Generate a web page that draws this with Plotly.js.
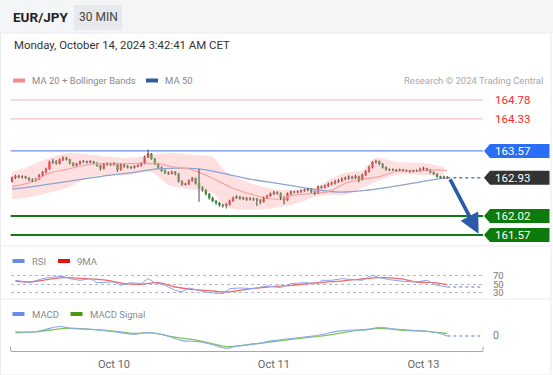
<!DOCTYPE html>
<html><head><meta charset="utf-8">
<script src="https://cdn.plot.ly/plotly-3.0.1.min.js"></script>
<style>html,body{margin:0;padding:0;background:#fff;}#chart{width:553px;height:375px;}</style>
</head><body><div id="chart"></div>
<script>
// ---------------- DATA ----------------
const pairName = "EUR/JPY";
const timeframe = "30 MIN";
const stampText = "Monday, October 14, 2024 3:42:41 AM CET";
const copyrightText = "Research © 2024 Trading Central";

// 30-min candles (index = candle number)
const candleOpen = [162.84,162.93,162.97,162.95,162.96,162.93,162.88,162.86,162.90,162.99,
163.06,163.14,163.30,163.32,163.27,163.36,163.40,163.37,163.28,163.22,
163.26,163.31,163.32,163.30,163.32,163.28,163.22,163.15,163.25,163.27,
163.24,163.26,163.12,163.24,163.20,163.18,163.17,163.20,163.22,163.27,
163.42,163.50,163.38,163.26,163.18,163.10,163.05,163.03,163.07,163.02,
162.85,162.77,162.78,162.86,162.92,162.80,162.70,162.64,162.55,162.45,
162.38,162.33,162.28,162.27,162.30,162.38,162.45,162.48,162.44,162.45,
162.42,162.44,162.43,162.40,162.36,162.45,162.50,162.55,162.58,162.56,
162.47,162.40,162.55,162.60,162.59,162.60,162.62,162.64,162.66,162.60,
162.57,162.72,162.70,162.74,162.78,162.80,162.84,162.86,162.90,162.92,
162.95,162.93,162.96,162.90,163.00,163.08,163.18,163.30,163.32,163.26,
163.18,163.13,163.12,163.12,163.11,163.12,163.11,163.10,163.08,163.09,
163.10,163.14,163.15,163.12,163.06,163.02,162.96,162.94,162.95];
const candleClose = [162.93,162.97,162.95,162.96,162.93,162.88,162.86,162.90,162.99,163.06,
163.14,163.30,163.32,163.27,163.36,163.40,163.37,163.28,163.22,163.26,
163.31,163.32,163.30,163.32,163.28,163.22,163.15,163.25,163.27,163.24,
163.26,163.12,163.24,163.20,163.18,163.17,163.20,163.22,163.27,163.42,
163.50,163.38,163.26,163.18,163.10,163.05,163.03,163.07,163.02,162.85,
162.77,162.78,162.86,162.92,162.80,162.70,162.64,162.55,162.45,162.38,
162.33,162.28,162.27,162.30,162.38,162.45,162.48,162.44,162.45,162.42,
162.44,162.43,162.40,162.36,162.45,162.50,162.55,162.58,162.56,162.47,
162.40,162.55,162.60,162.59,162.60,162.62,162.64,162.66,162.60,162.57,
162.72,162.70,162.74,162.78,162.80,162.84,162.86,162.90,162.92,162.95,
162.93,162.96,162.90,163.00,163.08,163.18,163.30,163.32,163.26,163.18,
163.13,163.12,163.12,163.11,163.12,163.11,163.10,163.08,163.09,163.10,
163.14,163.15,163.12,163.06,163.02,162.96,162.94,162.95,162.93];
const candleHigh = [162.96,163.00,163.00,162.99,162.98,162.95,162.92,162.93,163.02,163.09,
163.17,163.34,163.38,163.35,163.39,163.44,163.43,163.38,163.30,163.29,
163.34,163.35,163.34,163.35,163.33,163.30,163.24,163.28,163.30,163.29,
163.30,163.27,163.27,163.26,163.23,163.21,163.23,163.25,163.30,163.46,
163.60,163.52,163.40,163.28,163.20,163.13,163.08,163.10,163.09,163.04,
162.87,162.81,162.89,162.95,162.93,163.14,162.73,162.66,162.57,162.48,
162.40,162.36,162.31,162.33,162.41,162.48,162.52,162.50,162.48,162.47,
162.47,162.46,162.45,162.42,162.48,162.53,162.58,162.62,162.61,162.58,
162.49,162.58,162.63,162.62,162.63,162.65,162.67,162.69,162.68,162.62,
162.75,162.75,162.77,162.82,162.84,162.88,162.90,162.94,162.96,162.99,
162.98,163.00,162.98,163.03,163.11,163.22,163.33,163.36,163.34,163.28,
163.20,163.15,163.15,163.14,163.15,163.14,163.13,163.12,163.12,163.13,
163.17,163.19,163.17,163.14,163.08,163.04,162.98,162.98,162.97];
const candleLow = [162.82,162.90,162.92,162.91,162.90,162.85,162.83,162.84,162.88,162.97,
163.04,163.12,163.26,163.24,163.25,163.33,163.34,163.25,163.20,163.20,
163.24,163.29,163.27,163.28,163.26,163.19,163.10,163.13,163.22,163.21,
163.22,163.07,163.10,163.17,163.15,163.14,163.15,163.18,163.20,163.25,
163.40,163.36,163.24,163.15,163.07,163.02,163.00,163.01,162.99,162.82,
162.74,162.75,162.76,162.84,162.77,162.36,162.60,162.51,162.41,162.35,
162.29,162.24,162.22,162.20,162.27,162.36,162.43,162.41,162.40,162.38,
162.39,162.38,162.26,162.30,162.34,162.43,162.48,162.52,162.53,162.40,
162.30,162.38,162.52,162.56,162.56,162.57,162.60,162.61,162.57,162.52,
162.55,162.67,162.68,162.71,162.75,162.77,162.81,162.83,162.87,162.88,
162.89,162.90,162.82,162.87,162.97,163.05,163.15,163.27,163.23,163.15,
163.10,163.09,163.09,163.08,163.09,163.08,163.07,163.05,163.06,163.07,
163.07,163.11,163.09,163.03,162.99,162.93,162.91,162.91,162.90];

// Moving averages & Bollinger bands (read at sampled candle indices)
const ma50Idx = [0,6,16,26,36,43,55,60,70,78,86,96,105,115,125,128];
const ma50Val = [162.66,162.72,162.84,162.96,163.06,163.14,163.14,163.07,162.90,162.80,162.69,162.59,162.64,162.76,162.90,162.93];
const ma20Idx = [0,6,11,16,24,31,38,43,47,53,59,65,72,78,83,93,98,103,108,113,121,125,128];
const ma20Val = [162.72,162.84,163.04,163.13,163.26,163.26,163.275,163.26,163.195,163.12,162.92,162.68,162.50,162.42,162.52,162.60,162.80,162.895,162.96,163.08,163.10,163.12,163.10];
const bandIdx = [0,4,8,16,24,34,41,46,54,59,63,70,79,85,89,93,98,103,107,113,121,127];
const bandUpper = [163.075,163.163,163.313,163.513,163.472,163.40,163.472,163.52,163.472,163.425,163.068,162.807,162.64,162.664,162.664,162.878,163.044,163.116,163.40,163.306,163.282,163.187];
const bandLower = [162.42,162.45,162.52,162.688,162.97,162.997,163.068,162.76,162.64,162.569,162.236,162.165,162.236,162.355,162.474,162.52,162.52,162.688,162.83,162.997,162.997,162.997];

// Key levels
const levelValues = [164.78,164.33,163.57,162.93,162.02,161.57];
const lastPrice = 162.93;
const targetPrice = 161.57;

// RSI & 9MA
const rsiIdx = [1,5,9,12,15,17,20,23,25,30,32,35,38,40,42,45,48,50,52,56,59,62,64,67,71,75,79,82,86,90,91,94,97,100,103,106,108,111,115,119,122,125,128];
const rsiVal = [59.8,54.3,63.7,67.6,69.2,63.7,59.8,63.7,54.3,55.9,48,54.3,52,63.7,54.3,48,36.3,32.4,41.8,33.9,30,28.4,40.2,41.8,40.2,46.5,42.6,52,54.3,52,59.8,59.8,63.7,62.2,59.8,71.6,66.1,61.4,57.5,55.9,59.8,48,44.1];
const rsiMaIdx = [1,5,9,15,22,28,33,38,43,48,54,59,63,69,75,82,90,96,102,108,114,119,124,128];
const rsiMaVal = [58.2,55.9,59.8,66.1,63.7,59.8,52,50.4,54.3,44.1,37.8,34.7,32.4,38.6,44.1,48,54.3,57.5,62.2,66.1,63.7,55.9,54.3,49.6];
const rsiLevels = [30,50,70];

// MACD
const macdIdx = [1,7,10,14,17,23,30,36,40,45,50,55,59,63,65,71,77,84,90,96,100,104,108,111,116,121,125,128];
const macdVal = [0.035,0.035,0.06,0.088,0.07,0.06,0.035,0.011,0.028,0,-0.053,-0.063,-0.095,-0.13,-0.116,-0.088,-0.053,-0.025,0,0.042,0.053,0.053,0.081,0.07,0.053,0.042,0.025,-0.007];
const signalIdx = [1,7,16,23,30,36,41,48,55,63,69,77,86,94,100,108,114,121,128];
const signalVal = [0.025,0.035,0.07,0.06,0.042,0.018,0.025,-0.018,-0.053,-0.113,-0.095,-0.063,-0.025,0.007,0.042,0.07,0.053,0.042,0.018];

// Date ticks (candle index of each day start)
const dayTickIdx = [30,77,121];
const dayTickText = ["Oct 10","Oct 11","Oct 13"];

// ---------------- LAYOUT HELPERS ----------------
const W = 553, H = 375;
const px = x => x / W, py = y => 1 - y / H;
const FONT = "Roboto, 'Liberation Sans', Arial, sans-serif";
const xStart = -0.41, xEnd = 138.5;
const priceRange = [161.356, 165.065];
const priceDom = [244, 88];
const pricePerPx = (priceRange[1]-priceRange[0])/(priceDom[0]-priceDom[1]);

const candleX = candleClose.map((_, i) => i);
const lastIdx = candleX[candleX.length-1];

// wick segments outside bodies
const wx = [], wy = [];
candleX.forEach(i => {
  const top = Math.max(candleOpen[i], candleClose[i]);
  const bot = Math.min(candleOpen[i], candleClose[i]);
  wx.push(i, i, null, i, i, null);
  wy.push(candleHigh[i], top, null, bot, candleLow[i], null);
});

const traces = [
  {type:'scatter', x:bandIdx, y:bandLower, mode:'lines', line:{width:0, shape:'spline', smoothing:0.8}, hoverinfo:'skip', xaxis:'x', yaxis:'y'},
  {type:'scatter', x:bandIdx, y:bandUpper, mode:'lines', fill:'tonexty', fillcolor:'rgba(255,165,165,0.34)', line:{width:0, shape:'spline', smoothing:0.8}, hoverinfo:'skip', xaxis:'x', yaxis:'y'},
  {type:'scatter', x:ma50Idx, y:ma50Val, mode:'lines', line:{color:'#8ea3cf', width:1.3, shape:'spline'}, xaxis:'x', yaxis:'y'},
  {type:'scatter', x:ma20Idx, y:ma20Val, mode:'lines', line:{color:'#f6a3a3', width:1.2, shape:'spline'}, xaxis:'x', yaxis:'y'},
  {type:'scatter', x:wx, y:wy, mode:'lines', line:{color:'#4a4a4a', width:1}, connectgaps:false, xaxis:'x', yaxis:'y'},
  {type:'candlestick', x:candleX, open:candleOpen, high:candleOpen.map((o,i)=>Math.max(o,candleClose[i])), low:candleOpen.map((o,i)=>Math.min(o,candleClose[i])), close:candleClose,
    increasing:{line:{color:'#d9262b', width:0.6}, fillcolor:'#d9262b'},
    decreasing:{line:{color:'#2e8a2e', width:0.6}, fillcolor:'#2e8a2e'},
    whiskerwidth:0, xaxis:'x', yaxis:'y'},
  {type:'scatter', x:[lastIdx, xEnd], y:[lastPrice, lastPrice], mode:'lines', line:{color:'#5a7fc0', width:1.5, dash:'dot'}, xaxis:'x', yaxis:'y'},
  // RSI
  {type:'scatter', x:rsiMaIdx, y:rsiMaVal, mode:'lines', line:{color:'#f26a6a', width:1.3, shape:'spline'}, xaxis:'x2', yaxis:'y2'},
  {type:'scatter', x:rsiIdx, y:rsiVal, mode:'lines', line:{color:'#8aa4ee', width:1}, xaxis:'x2', yaxis:'y2'},
  {type:'scatter', x:[lastIdx, xEnd], y:[rsiVal[rsiVal.length-1], rsiVal[rsiVal.length-1]], mode:'lines', line:{color:'#8aa4ee', width:1.3, dash:'dot'}, xaxis:'x2', yaxis:'y2'},
  // MACD
  {type:'scatter', x:signalIdx, y:signalVal, mode:'lines', line:{color:'#82c45a', width:1.3, shape:'spline'}, xaxis:'x3', yaxis:'y3'},
  {type:'scatter', x:macdIdx, y:macdVal, mode:'lines', line:{color:'#8aa8f0', width:1.1, shape:'spline'}, xaxis:'x3', yaxis:'y3'},
  {type:'scatter', x:[lastIdx, xEnd], y:[macdVal[macdVal.length-1], macdVal[macdVal.length-1]], mode:'lines', line:{color:'#8aa8f0', width:1.3, dash:'dot'}, xaxis:'x3', yaxis:'y3'}
];

// level styling
const levelStyle = [
  {line:'#f7b4b4', lw:1, tag:null, text:'#ff2424'},
  {line:'#f7b4b4', lw:1, tag:null, text:'#ff2424'},
  {line:'#6d90f0', lw:1.2, tag:'#2a6ef5', text:'#ffffff'},
  {line:null, lw:0, tag:'#333333', text:'#ffffff'},
  {line:'#157a15', lw:2, tag:'#0c7a0c', text:'#ffffff'},
  {line:'#157a15', lw:2, tag:'#0c7a0c', text:'#ffffff'}
];

const shapes = [];
const annotations = [];

// page backgrounds
shapes.push({type:'rect', xref:'paper', yref:'paper', x0:0, x1:1, y0:py(33), y1:1, fillcolor:'#f4f5f6', line:{width:0}, layer:'below'});
shapes.push({type:'rect', xref:'paper', yref:'paper', x0:px(74), x1:px(122), y0:py(30), y1:py(5), fillcolor:'#e7e9ec', line:{width:0}, layer:'below'});
shapes.push({type:'rect', xref:'paper', yref:'paper', x0:px(0.5), x1:px(551), y0:0, y1:py(33), fillcolor:'rgba(0,0,0,0)', line:{color:'#e8eaec', width:1}, layer:'below'});
shapes.push({type:'line', xref:'paper', yref:'paper', x0:px(1), x1:px(551), y0:py(246), y1:py(246), line:{color:'#eef0f2', width:1.5}, layer:'below'});
shapes.push({type:'line', xref:'paper', yref:'paper', x0:px(1), x1:px(551), y0:py(299), y1:py(299), line:{color:'#eef0f2', width:1.5}, layer:'below'});
// axis end brackets
shapes.push({type:'line', xref:'x3 domain', yref:'paper', x0:0, x1:0, y0:py(351), y1:py(346.5), line:{color:'#a8a8a8', width:1}});
shapes.push({type:'line', xref:'x3 domain', yref:'paper', x0:1, x1:1, y0:py(351), y1:py(346.5), line:{color:'#a8a8a8', width:1}});

const tagH = 7 * pricePerPx;
levelValues.forEach((v, k) => {
  const st = levelStyle[k];
  if (st.line) shapes.push({type:'line', xref:'x domain', yref:'y', x0:0, x1:1, y0:v, y1:v, line:{color:st.line, width:st.lw}, layer:'below'});
  if (st.tag) {
    const a = px(484), b = px(490), c = px(549.5);
    shapes.push({type:'path', xref:'paper', yref:'y', fillcolor:st.tag, line:{width:0},
      path:`M ${a},${v} L ${b},${v+tagH} L ${c},${v+tagH} L ${c},${v-tagH} L ${b},${v-tagH} Z`});
  }
  annotations.push({xref:'paper', yref:'y', x:px(492.5), y:v, xanchor:'left', yanchor:'middle', text:v.toFixed(2), showarrow:false, font:{family:FONT, size:11.5, color:st.text}});
});

// forecast arrow
annotations.push({xref:'x', yref:'y', axref:'x', ayref:'y', x:137.2, y:targetPrice+0.03, ax:lastIdx+0.6, ay:lastPrice, text:'', showarrow:true, arrowhead:2, arrowsize:1.1, arrowwidth:3.6, arrowcolor:'#2b5aa8', standoff:0, startstandoff:0});

// header text
annotations.push({xref:'paper', yref:'paper', x:px(11), y:py(17.5), xanchor:'left', yanchor:'middle', text:'<b>'+pairName+'</b>', showarrow:false, font:{family:FONT, size:13.5, color:'#222'}});
annotations.push({xref:'paper', yref:'paper', x:px(98), y:py(17.5), xanchor:'center', yanchor:'middle', text:timeframe, showarrow:false, font:{family:FONT, size:12, color:'#444'}});
annotations.push({xref:'paper', yref:'paper', x:px(12), y:py(44.5), xanchor:'left', yanchor:'middle', text:stampText, showarrow:false, font:{family:FONT, size:11.4, color:'#333'}});
annotations.push({xref:'paper', yref:'paper', x:px(545), y:py(81), xanchor:'right', yanchor:'middle', text:copyrightText, showarrow:false, font:{family:FONT, size:9.5, color:'#a8a8a8'}});

// legends
function legendItem(x0, x1, yc, color, label) {
  shapes.push({type:'rect', xref:'paper', yref:'paper', x0:px(x0), x1:px(x1), y0:py(yc+2), y1:py(yc-2), fillcolor:color, line:{width:0}});
  annotations.push({xref:'paper', yref:'paper', x:px(x1+5), y:py(yc), xanchor:'left', yanchor:'middle', text:label, showarrow:false, font:{family:FONT, size:9.5, color:'#8a8a8a'}});
}
legendItem(13, 25, 80.5, '#f88a8a', 'MA 20 + Bollinger Bands');
legendItem(146, 158, 80.5, '#2f5aa0', 'MA 50');
legendItem(12.5, 24.5, 261, '#6b8be8', 'RSI');
legendItem(58, 70, 261, '#e81010', '9MA');
legendItem(12.5, 24.5, 314, '#6b8be8', 'MACD');
legendItem(70.5, 82.5, 314, '#4a9a10', 'MACD Signal');

const xDom = [px(10.6), px(483)];
const hiddenX = {domain:xDom, range:[xStart, xEnd], showgrid:false, zeroline:false, showline:false, showticklabels:false, ticks:'', fixedrange:true};
const layout = {
  width:W, height:H, margin:{l:0, r:0, t:0, b:0, pad:0},
  paper_bgcolor:'#ffffff', plot_bgcolor:'rgba(0,0,0,0)', showlegend:false,
  font:{family:FONT},
  xaxis:Object.assign({}, hiddenX, {anchor:'y', rangeslider:{visible:false}}),
  xaxis2:Object.assign({}, hiddenX, {anchor:'y2', matches:'x'}),
  xaxis3:Object.assign({}, hiddenX, {anchor:'y3', matches:'x', showline:true, linecolor:'#a8a8a8', linewidth:1,
    showticklabels:true, tickvals:dayTickIdx, ticktext:dayTickText, tickfont:{family:FONT, size:11, color:'#666'}, ticklabelstandoff:3}),
  yaxis:{domain:[py(priceDom[0]), py(priceDom[1])], range:priceRange, anchor:'x', showgrid:false, zeroline:false, showticklabels:false, ticks:'', fixedrange:true},
  yaxis2:{domain:[py(300), py(268)], range:[13.5, 88.8], anchor:'x2', side:'right', tickvals:rsiLevels, showgrid:true, griddash:'dot', gridcolor:'#b8b8b8', gridwidth:1,
    zeroline:false, showline:false, ticks:'', ticklabelstandoff:9, tickfont:{family:FONT, size:9.5, color:'#777'}, fixedrange:true},
  yaxis3:{domain:[py(351), py(322)], range:[-0.157, 0.133], anchor:'x3', side:'right', tickvals:[0], ticktext:['0'], showgrid:false, zeroline:false, showline:false,
    ticks:'', ticklabelstandoff:9, tickfont:{family:FONT, size:10.5, color:'#777'}, fixedrange:true},
  shapes:shapes, annotations:annotations
};
Plotly.newPlot('chart', traces, layout, {staticPlot:true, displayModeBar:false});
</script></body></html>
